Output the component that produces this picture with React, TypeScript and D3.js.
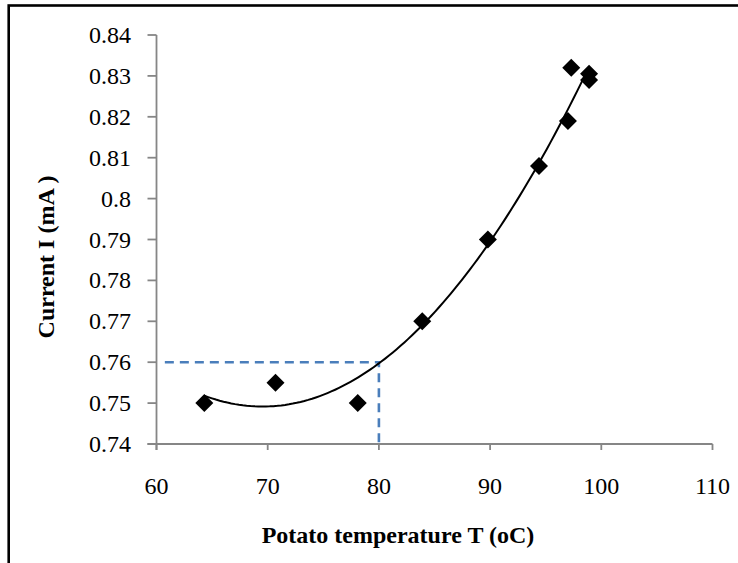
import React from "react";
import * as d3 from "d3";

// ---- data ----
const temperatures = [64.3, 70.7, 78.1, 83.9, 89.8, 94.4, 97.0, 97.3, 98.9, 98.9];
const currents = [0.75, 0.755, 0.75, 0.77, 0.79, 0.808, 0.819, 0.832, 0.8305, 0.829];
const xTicks = [60, 70, 80, 90, 100, 110];
const xTickLabels = ["60", "70", "80", "90", "100", "110"];
const yTicks = [0.74, 0.75, 0.76, 0.77, 0.78, 0.79, 0.8, 0.81, 0.82, 0.83, 0.84];
const yTickLabels = ["0.74", "0.75", "0.76", "0.77", "0.78", "0.79", "0.8", "0.81", "0.82", "0.83", "0.84"];
const guideT = 80;
const guideI = 0.76;
const trendOrder = 2;

function polyfit(xs: number[], ys: number[], order: number) {
  const mx = d3.mean(xs) as number;
  const n = order + 1;
  const A: number[][] = Array.from({ length: n }, () => new Array(n + 1).fill(0));
  xs.forEach((x, k) => {
    const t = x - mx;
    for (let i = 0; i < n; i++) {
      for (let j = 0; j < n; j++) A[i][j] += Math.pow(t, i + j);
      A[i][n] += Math.pow(t, i) * ys[k];
    }
  });
  for (let c = 0; c < n; c++) {
    let p = c;
    for (let r = c + 1; r < n; r++) if (Math.abs(A[r][c]) > Math.abs(A[p][c])) p = r;
    [A[c], A[p]] = [A[p], A[c]];
    for (let r = 0; r < n; r++) {
      if (r === c) continue;
      const f = A[r][c] / A[c][c];
      for (let j = c; j <= n; j++) A[r][j] -= f * A[c][j];
    }
  }
  const coef = A.map((row, i) => row[n] / row[i]);
  return (x: number) => coef.reduce((s, c, i) => s + c * Math.pow(x - mx, i), 0);
}

export default function App() {
  const W = 738;
  const H = 563;
  const x = d3.scaleLinear().domain([60, 110]).range([156.5, 712.5]);
  const y = d3.scaleLinear().domain([0.74, 0.84]).range([444, 35]);
  const axisColor = "#868686";
  const font = "'Liberation Serif', 'Times New Roman', serif";

  const fit = polyfit(temperatures, currents, trendOrder);
  const tMin = d3.min(temperatures) as number;
  const tMax = d3.max(temperatures) as number;
  const samples = d3.range(0, 101).map((i) => tMin + ((tMax - tMin) * i) / 100);
  const trendPath = d3
    .line<number>()
    .x((t) => x(t))
    .y((t) => y(fit(t)))(samples) as string;

  const guidePath = `M${x(60.75)},${y(guideI)}L${x(guideT)},${y(guideI)}L${x(guideT)},${y(0.74)}`;
  const r = 9;
  const diamond = `M0,${-r}L${r},0L0,${r}L${-r},0Z`;

  return (
    <div style={{ position: "fixed", left: 0, top: 0 }}>
      <svg width={W} height={H} style={{ display: "block", background: "#fff" }}>
        <rect x={8.7} y={5.5} width={800} height={700} fill="#fff" stroke="#000" strokeWidth={2.6} />
        {/* y axis */}
        <line x1={x(60)} x2={x(60)} y1={y(0.84)} y2={y(0.74) + 6} stroke={axisColor} strokeWidth={1.8} />
        {yTicks.map((v, i) => (
          <g key={"y" + i}>
            <line x1={x(60) - 9} x2={x(60)} y1={y(v)} y2={y(v)} stroke={axisColor} strokeWidth={1.8} />
            <text x={131} y={y(v) + 8} textAnchor="end" fontFamily={font} fontSize={24} fill="#000">
              {yTickLabels[i]}
            </text>
          </g>
        ))}
        {/* x axis */}
        <line x1={x(60) - 9} x2={x(110)} y1={y(0.74)} y2={y(0.74)} stroke={axisColor} strokeWidth={1.8} />
        {xTicks.map((v, i) => (
          <g key={"x" + i}>
            <line x1={x(v)} x2={x(v)} y1={y(0.74)} y2={y(0.74) + 6} stroke={axisColor} strokeWidth={1.8} />
            <text x={x(v)} y={494} textAnchor="middle" fontFamily={font} fontSize={24} fill="#000">
              {xTickLabels[i]}
            </text>
          </g>
        ))}
        {/* guide lines */}
        <path d={guidePath} fill="none" stroke="#4A7EBB" strokeWidth={2.6} strokeDasharray="9,6" />
        {/* trendline */}
        <path d={trendPath} fill="none" stroke="#000" strokeWidth={2} />
        {/* points */}
        {temperatures.map((t, i) => (
          <path key={"p" + i} d={diamond} transform={`translate(${x(t)},${y(currents[i])})`} fill="#000" />
        ))}
        {/* titles */}
        <text x={398} y={543} textAnchor="middle" fontFamily={font} fontSize={24} fontWeight="bold" fill="#000">
          Potato temperature T (oC)
        </text>
        <text
          transform={`translate(54,257) rotate(-90)`}
          textAnchor="middle"
          fontFamily={font}
          fontSize={24}
          fontWeight="bold"
          fill="#000"
        >
          Current I (mA )
        </text>
      </svg>
    </div>
  );
}
